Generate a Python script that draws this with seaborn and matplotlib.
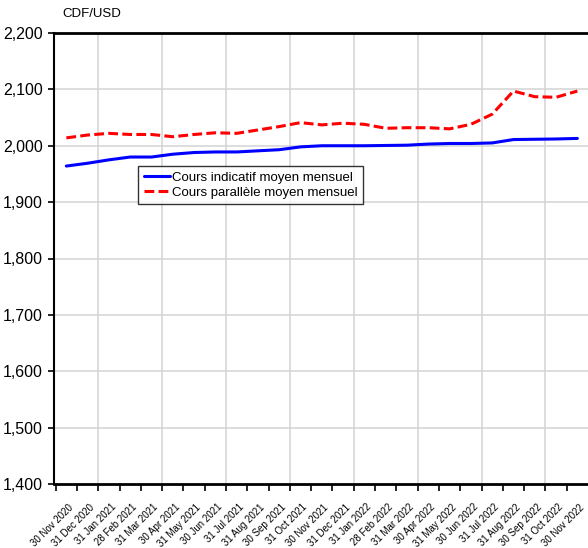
import numpy as np
import pandas as pd
import matplotlib
matplotlib.use("Agg")
import matplotlib.pyplot as plt
import seaborn as sns
from matplotlib.ticker import FuncFormatter

months = ["30 Nov 2020", "31 Dec 2020", "31 Jan 2021", "28 Feb 2021", "31 Mar 2021",
          "30 Apr 2021", "31 May 2021", "30 Jun 2021", "31 Jul 2021", "31 Aug 2021",
          "30 Sep 2021", "31 Oct 2021", "30 Nov 2021", "31 Dec 2021", "31 Jan 2022",
          "28 Feb 2022", "31 Mar 2022", "30 Apr 2022", "31 May 2022", "30 Jun 2022",
          "31 Jul 2022", "31 Aug 2022", "30 Sep 2022", "31 Oct 2022", "30 Nov 2022"]

cours_indicatif = [1964, 1969, 1975, 1980, 1980, 1985, 1988, 1989, 1989, 1991,
                   1993, 1998, 2000, 2000, 2000, 2000.5, 2001, 2003, 2004, 2004,
                   2005, 2011, 2011.5, 2012, 2013]
cours_parallele = [2014, 2019, 2022, 2020, 2020, 2016, 2020, 2023, 2022, 2028,
                   2034, 2041, 2037, 2040, 2038, 2031, 2032, 2032, 2030, 2038,
                   2056, 2097, 2087, 2086, 2097]

series_names = ["Cours indicatif moyen mensuel", "Cours parallèle moyen mensuel"]
y_ticks = list(range(1400, 2201, 100))
unit_label = "CDF/USD"

sns.set_theme(style="white")
plt.rcParams['font.family'] = ['Liberation Sans', 'DejaVu Sans']

n = len(months)
pos = np.arange(n) + 0.5
df = pd.DataFrame({
    "pos": np.concatenate([pos, pos]),
    "value": cours_indicatif + cours_parallele,
    "series": [series_names[0]] * n + [series_names[1]] * n,
})

fig = plt.figure(figsize=(5.88, 5.48), dpi=100)
ax = fig.add_axes([54 / 588, 64 / 548, 1 - 54 / 588, (484 - 33) / 548])

# grid
for yv in y_ticks[1:-1]:
    ax.axhline(yv, color="#d3d3d3", lw=1.1, zorder=0)
for xv in range(2, n, 3):
    ax.axvline(xv, color="#d3d3d3", lw=1.1, zorder=0)

sns.lineplot(data=df, x="pos", y="value", hue="series", style="series",
             palette={series_names[0]: "#0000ff", series_names[1]: "#ff0000"},
             dashes={series_names[0]: "", series_names[1]: (3.2, 1.4)},
             linewidth=2.2, ax=ax, legend=True, zorder=3)

ax.set_xlim(-0.08, 25.0)
ax.set_ylim(1400, 2200)
ax.set_yticks(y_ticks)
ax.yaxis.set_major_formatter(FuncFormatter(lambda v, p: f"{int(v):,}"))
ax.tick_params(axis="y", which="major", left=True, length=4, width=1.2,
               color="black", direction="out", pad=4, labelsize=11.5, labelcolor="black")

# labels at data positions, boundary ticks as minor ticks
ax.set_xticks(pos + 0.08)
ax.set_xticklabels(months, rotation=45, ha="right", va="top",
                   rotation_mode="anchor", fontsize=7)
ax.set_xticks(np.arange(n), minor=True)
ax.tick_params(axis="x", which="major", length=0, pad=13, labelcolor="black")
ax.tick_params(axis="x", which="minor", bottom=True, length=5, width=1.2,
               color="black", direction="out")

ax.set_xlabel("")
ax.set_ylabel("")

for side in ["top", "bottom"]:
    ax.spines[side].set_visible(True)
    ax.spines[side].set_color("black")
    ax.spines[side].set_linewidth(2.0)
ax.spines["left"].set_color("black")
ax.spines["left"].set_linewidth(1.5)
ax.spines["right"].set_visible(False)

leg = ax.legend(loc="upper left", bbox_to_anchor=((138 - 54) / 534, (484 - 166) / 451),
                borderaxespad=0, frameon=True, fancybox=False, fontsize=9.5,
                handlelength=2.0, handletextpad=0.15, labelspacing=0.2,
                borderpad=0.42, title=None)
leg.get_frame().set_edgecolor("black")
leg.get_frame().set_linewidth(1.0)
for t in leg.get_texts():
    t.set_color("black")

fig.text(62 / 588, 1 - 14 / 548, unit_label, fontsize=9.5, ha="left", va="center",
         color="black")

fig.savefig("out.png", dpi=100)
